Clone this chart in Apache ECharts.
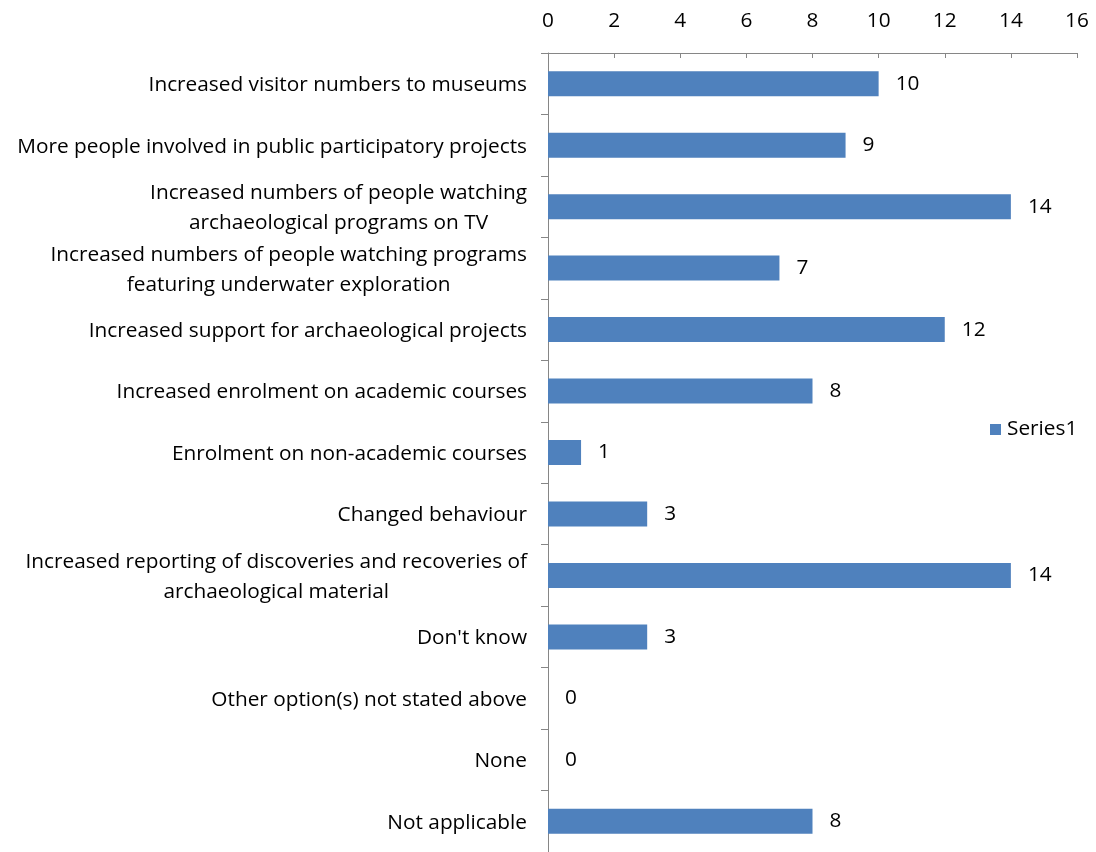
<!DOCTYPE html>
<html>
<head>
<meta charset="utf-8">
<script src="https://cdn.jsdelivr.net/npm/echarts@6/dist/echarts.min.js"></script>
<style>
  html, body { margin: 0; padding: 0; background: #fff; }
  #chart { width: 1096px; height: 852px; }
</style>
</head>
<body>
<div id="chart"></div>
<script>
// Survey responses: perceived effects, one bar per answer
const categories = [
  "Increased visitor numbers to museums",
  "More people involved in public participatory projects",
  "Increased numbers of people watching\narchaeological programs on TV",
  "Increased numbers of people watching programs\nfeaturing underwater exploration",
  "Increased support for archaeological projects",
  "Increased enrolment on academic courses",
  "Enrolment on non-academic courses",
  "Changed behaviour",
  "Increased reporting of discoveries and recoveries of\narchaeological material",
  "Don't know",
  "Other option(s) not stated above",
  "None",
  "Not applicable"
];
const series1 = [10, 9, 14, 7, 12, 8, 1, 3, 14, 3, 0, 0, 8];
const seriesName = "Series1";
const valueTicks = { min: 0, max: 16, interval: 2 };

const FONT = "'Open Sans', 'Noto Sans', sans-serif";
const FS = 20.8;
const AXIS_GRAY = "#868686";

const chart = echarts.init(document.getElementById('chart'), null, { renderer: 'canvas' });
chart.setOption({
  animation: false,
  backgroundColor: '#ffffff',
  textStyle: { fontFamily: FONT, color: '#000' },
  grid: { left: 548, right: 19, top: 53, bottom: -3, containLabel: false },
  legend: {
    orient: 'vertical',
    left: 985,
    top: 414,
    itemWidth: 11,
    itemHeight: 11,
    itemGap: 4,
    icon: 'rect',
    textStyle: { fontFamily: FONT, fontSize: FS, color: '#000', padding: [0, 0, 0, 1] },
    data: [seriesName]
  },
  xAxis: {
    type: 'value',
    position: 'top',
    min: valueTicks.min,
    max: valueTicks.max,
    interval: valueTicks.interval,
    axisLine: { show: true, lineStyle: { color: AXIS_GRAY, width: 1 } },
    axisTick: { show: true, inside: true, length: 5, lineStyle: { color: AXIS_GRAY } },
    axisLabel: { fontFamily: FONT, fontSize: FS, color: '#000', margin: 21 },
    splitLine: { show: false }
  },
  yAxis: {
    type: 'category',
    inverse: true,
    data: categories,
    axisLine: { show: true, lineStyle: { color: AXIS_GRAY, width: 1 } },
    axisTick: { show: true, length: 7, lineStyle: { color: AXIS_GRAY } },
    axisLabel: {
      fontFamily: FONT,
      fontSize: FS,
      color: '#000',
      margin: 21,
      lineHeight: 30,
      align: 'right',
      padding: [3, 0, 0, 0],
      formatter: v => '{c|' + v.split('\n').join('}\n{c|') + '}',
      rich: { c: { align: 'center', fontFamily: FONT, fontSize: FS, color: '#000', lineHeight: 30 } }
    }
  },
  series: [{
    name: seriesName,
    type: 'bar',
    data: series1,
    barWidth: 25,
    itemStyle: { color: '#4F81BD' },
    label: {
      show: true,
      position: 'right',
      distance: 17,
      fontFamily: FONT,
      fontSize: FS,
      color: '#000'
    }
  }]
});
</script>
</body>
</html>
